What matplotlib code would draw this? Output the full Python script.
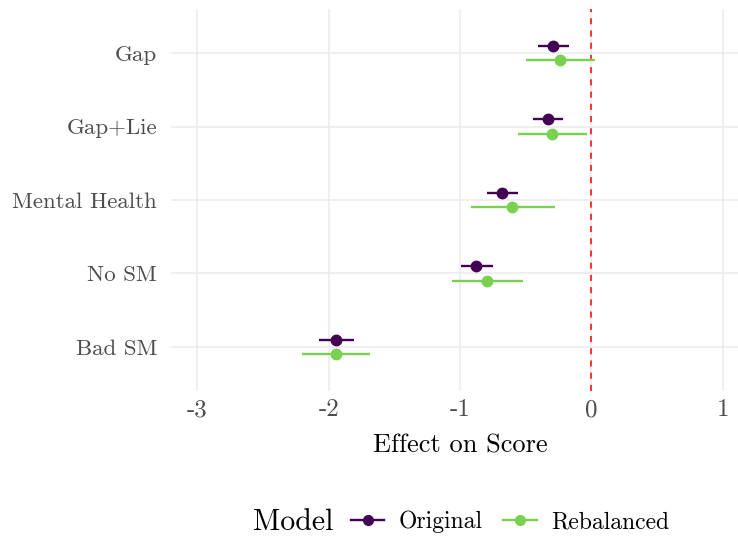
import matplotlib
matplotlib.use("Agg")
import matplotlib.pyplot as plt
from matplotlib.lines import Line2D

plt.rcParams['font.family'] = ['cmr10', 'DejaVu Serif']
plt.rcParams['axes.unicode_minus'] = False

# ---- data ----
terms = ['Bad SM', 'No SM', 'Mental Health', 'Gap+Lie', 'Gap']
models = ['Original', 'Rebalanced']

orig_est = [-1.944, -0.877, -0.681, -0.331, -0.293]
orig_lo = [-2.076, -0.996, -0.796, -0.445, -0.407]
orig_hi = [-1.809, -0.750, -0.556, -0.216, -0.173]

rebal_est = [-1.944, -0.793, -0.602, -0.300, -0.242]
rebal_lo = [-2.203, -1.062, -0.918, -0.559, -0.501]
rebal_hi = [-1.682, -0.518, -0.274, -0.034, 0.030]

xticks = [-3, -2, -1, 0, 1]
xtick_labels = ['-3', '-2', '-1', '0', '1']

colors = {'Original': '#440154', 'Rebalanced': '#7AD151'}
offsets = {'Original': 0.1, 'Rebalanced': -0.1}

fig = plt.figure(figsize=(7.38, 5.4), dpi=100)
# panel runs a little past the right edge of the figure, like the original
ax = fig.add_axes([171 / 738, 149 / 540, 578 / 738, 382 / 540])

series = {
    'Original': (orig_est, orig_lo, orig_hi),
    'Rebalanced': (rebal_est, rebal_lo, rebal_hi),
}
ypos = list(range(1, len(terms) + 1))
for m in models:
    est, lo, hi = series[m]
    y = [p + offsets[m] for p in ypos]
    ax.hlines(y, lo, hi, color=colors[m], linewidth=1.7, zorder=3)
    ax.plot(est, y, 'o', color=colors[m], markersize=7.5, zorder=4)

ax.axvline(0, color='red', linestyle=(0, (4, 4)), linewidth=1.1, zorder=2)

ax.set_xlim(-3.2, 1.2)
ax.set_ylim(0.4, 5.6)
ax.set_xticks(xticks)
ax.set_xticklabels(xtick_labels)
ax.set_yticks(ypos)
ax.set_yticklabels(terms)
ax.tick_params(axis='both', length=0, colors='#4D4D4D')
ax.tick_params(axis='x', labelsize=18, pad=6)
ax.tick_params(axis='y', labelsize=16.5, pad=10)
ax.grid(True, color='#EBEBEB', linewidth=1.1)
ax.set_axisbelow(True)
for s in ax.spines.values():
    s.set_visible(False)
ax.set_xlabel('Effect on Score', fontsize=19, labelpad=9)

# legend at the bottom, title on the left
fig.text(253 / 738, 1 - 522 / 540, 'Model', fontsize=21.5, va='center', ha='left')
handles = [Line2D([0], [0], color=colors[m], marker='o', markersize=7, linewidth=1.7)
           for m in models]
fig.legend(handles, models, loc='center left', bbox_to_anchor=(351 / 738, 1 - 522 / 540),
           ncol=2, frameon=False, fontsize=17, handlelength=1.4, columnspacing=0.9,
           handletextpad=0.6, borderpad=0, borderaxespad=0)

fig.savefig('out.png', dpi=100)
